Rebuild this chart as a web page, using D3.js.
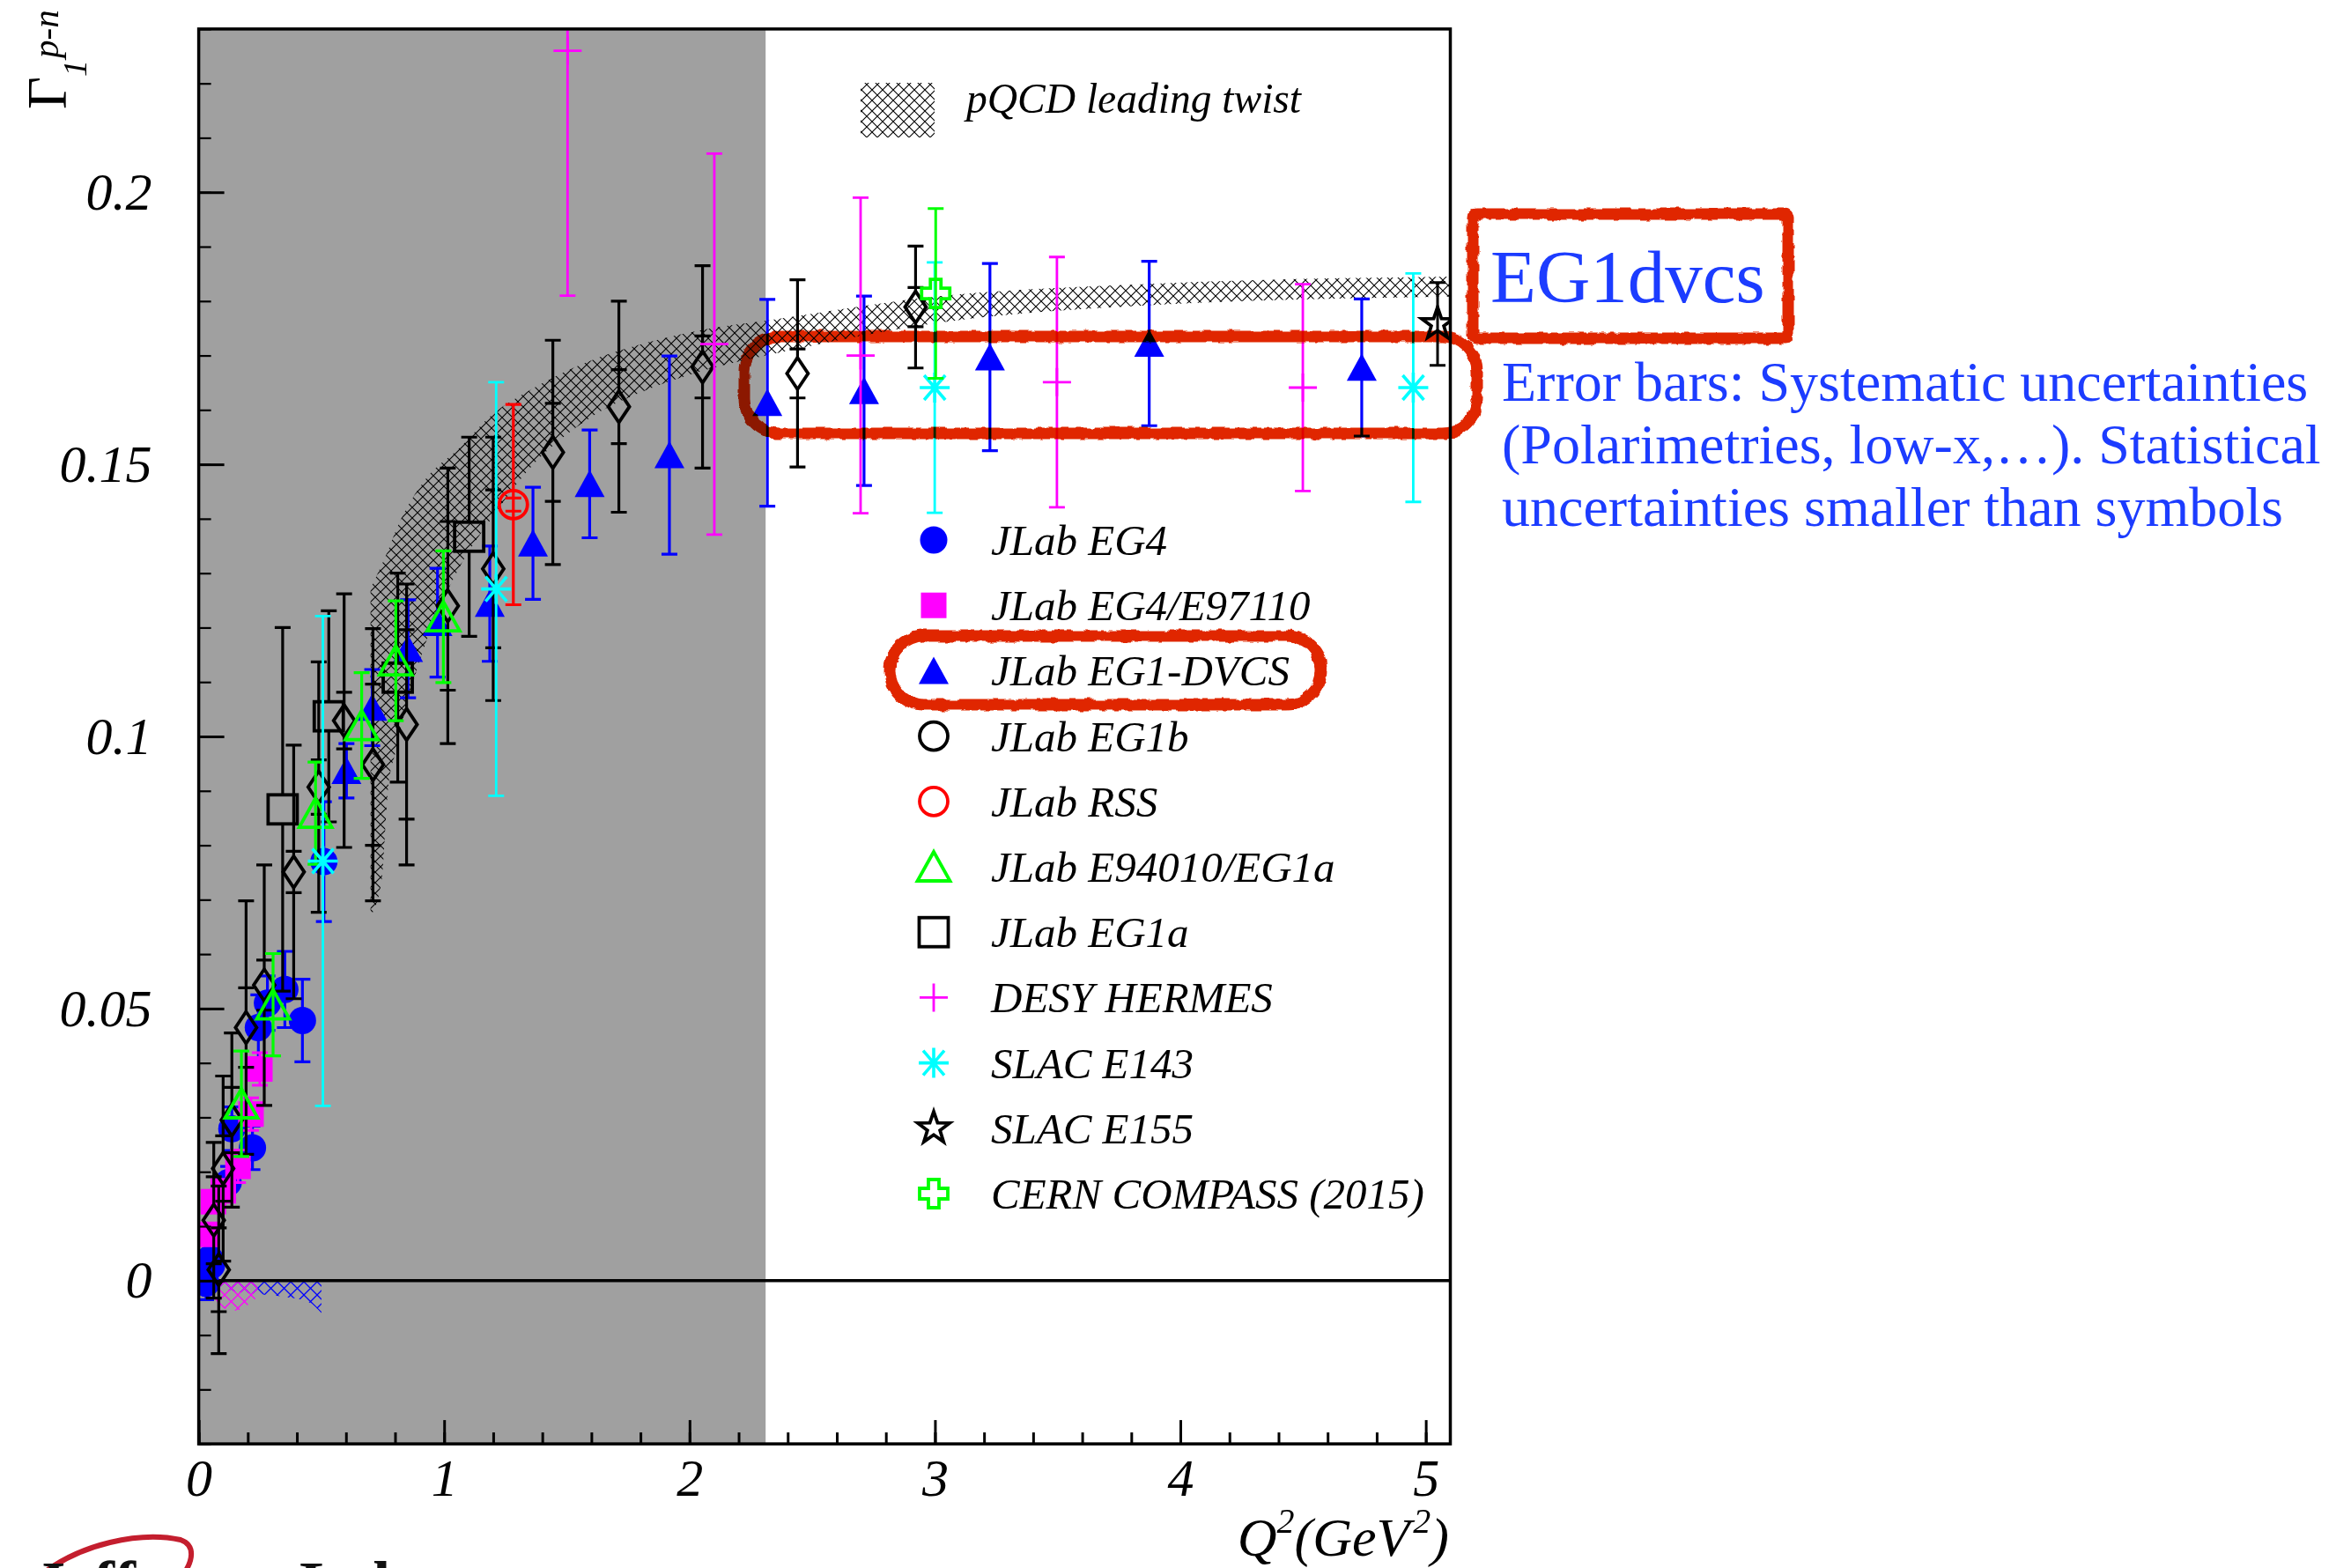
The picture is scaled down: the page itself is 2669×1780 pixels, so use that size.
<!DOCTYPE html>
<html>
<head>
<meta charset="utf-8">
<script src="https://cdn.jsdelivr.net/npm/d3@7"></script>
<style>
body { margin: 0; background: #fff; overflow: hidden; }
svg { display: block; }
text { font-family: "Liberation Serif", "Times New Roman", serif; }
</style>
</head>
<body>
<script>
// ---- data: [Q2, Gamma1, err] (EG1b / RSS: [Q2, Gamma1, errTotal, errStat])
var eg4 = [
  [0.030, -0.0005, 0.003], [0.045, 0.0040, 0.003], [0.052, 0.0028, 0.003],
  [0.120, 0.0180, 0.003], [0.135, 0.0279, 0.004], [0.219, 0.0244, 0.004],
  [0.243, 0.0465, 0.006], [0.280, 0.0510, 0.005], [0.351, 0.0535, 0.007],
  [0.4226, 0.0478, 0.0076], [0.510, 0.0770, 0.011]
];
var eg4e97110 = [
  [0.035, 0.0085, 0.002], [0.060, 0.0145, 0.002], [0.100, 0.0165, 0.002],
  [0.160, 0.0210, 0.003], [0.213, 0.0306, 0.003], [0.249, 0.0389, 0.003]
];
var eg1dvcs = [
  [0.602, 0.0937, 0.0050], [0.707, 0.1053, 0.0070], [0.853, 0.1161, 0.0090],
  [0.973, 0.1209, 0.0100], [1.186, 0.1244, 0.0106], [1.362, 0.1355, 0.0103],
  [1.593, 0.1464, 0.0099], [1.918, 0.1517, 0.0182], [2.317, 0.1613, 0.0190],
  [2.711, 0.1635, 0.0174], [3.224, 0.1697, 0.0172], [3.873, 0.1722, 0.0151],
  [4.739, 0.1678, 0.0126]
];
var eg1b = [
  [0.0613, 0.0111, 0.0143, 0.0080], [0.0815, 0.0020, 0.0154, 0.0077],
  [0.0995, 0.0206, 0.0170, 0.0060], [0.135, 0.0295, 0.0160, 0.0060],
  [0.193, 0.0465, 0.0233, 0.0073], [0.267, 0.0543, 0.0221, 0.0046],
  [0.387, 0.0751, 0.0233, 0.0038], [0.489, 0.0907, 0.0230, 0.0050],
  [0.5925, 0.1029, 0.0233, 0.0052], [0.710, 0.0948, 0.0250, 0.0148],
  [0.847, 0.1022, 0.0258, 0.0174], [1.015, 0.1240, 0.0253, 0.0155],
  [1.200, 0.1308, 0.0242, 0.0145], [1.443, 0.1522, 0.0206, 0.0090],
  [1.712, 0.1606, 0.0194, 0.0068], [2.053, 0.1679, 0.0186, 0.0057],
  [2.440, 0.1667, 0.0172, 0.0045], [2.921, 0.1789, 0.0112, 0.0036]
];
var rss = [[1.282, 0.1426, 0.0184, 0.0012]];
var e94010 = [
  [0.174, 0.0325, 0.0097], [0.303, 0.0507, 0.0094], [0.476, 0.0859, 0.0094],
  [0.664, 0.1020, 0.0097], [0.803, 0.1139, 0.0110], [0.997, 0.1220, 0.0121]
];
var eg1a = [[0.342, 0.0866, 0.0334], [0.530, 0.1037, 0.0194], [0.811, 0.1108, 0.0192], [1.102, 0.1367, 0.0183]];
var hermes = [[1.503, 0.2260, 0.045], [2.101, 0.1721, 0.035], [2.697, 0.1700, 0.029], [3.497, 0.1651, 0.023], [4.499, 0.1641, 0.019]];
var e143 = [[0.506, 0.0771, 0.045], [1.212, 0.1271, 0.038], [2.999, 0.1641, 0.023], [4.949, 0.1641, 0.021]];
var e155 = [[5.048, 0.1758, 0.0076]];
var compass = [[3.003, 0.1814, 0.0156]];

// pQCD leading twist band
var pqcdQ    = [0.700, 0.745, 0.770, 0.805, 0.925, 1.057, 1.200, 1.344, 1.583, 1.822, 2.062, 2.313, 3.0, 3.9, 5.1];
var pqcdLow  = [0.0670, 0.0734, 0.0896, 0.0977, 0.1172, 0.1306, 0.1405, 0.1490, 0.1582, 0.1636, 0.1673, 0.1700, 0.1759, 0.1793, 0.1808];
var pqcdHigh = [0.1272, 0.1315, 0.1340, 0.1380, 0.1473, 0.1528, 0.1593, 0.1635, 0.1688, 0.1723, 0.1748, 0.1764, 0.1808, 0.1832, 0.1845];
// systematic bands at the bottom
var eg4BandQ   = [0.06, 0.15, 0.25, 0.35, 0.45, 0.50];
var eg4BandLow = [-0.001, -0.002, -0.0025, -0.003, -0.004, -0.006];
var e97BandQ   = [0.06, 0.10, 0.15, 0.20, 0.24];
var e97BandLow = [-0.003, -0.005, -0.0055, -0.0045, -0.003];

var resonanceEnd = 2.31;

var xTicks = [0, 1, 2, 3, 4, 5];
var xTickLabels = ["0", "1", "2", "3", "4", "5"];
var yTicks = [0, 0.05, 0.1, 0.15, 0.2];
var yTickLabels = ["0", "0.05", "0.1", "0.15", "0.2"];

var legendLabels = ["JLab EG4", "JLab EG4/E97110", "JLab EG1-DVCS", "JLab EG1b", "JLab RSS",
  "JLab E94010/EG1a", "JLab EG1a", "DESY HERMES", "SLAC E143", "SLAC E155", "CERN COMPASS (2015)"];
var noteLines = ["Error bars: Systematic uncertainties",
  "(Polarimetries, low-x,\u2026). Statistical",
  "uncertainties smaller than symbols"];

// ---- layout
var W = 2669, H = 1780;
var pl = 225.6, pr = 1646.5, pt = 32.9, pb = 1639.1;

var x = d3.scaleLinear().domain([0, 5.1]).range([pl, pr]);
var y = d3.scaleLinear().domain([-0.03, 0.23]).range([pb, pt]);

var svg = d3.select("body").append("svg").attr("width", W).attr("height", H);
var defs = svg.append("defs");

function hatch(id, color, size, sw) {
  var p = defs.append("pattern").attr("id", id).attr("patternUnits", "userSpaceOnUse")
    .attr("width", size).attr("height", size);
  p.append("path")
    .attr("d", "M-1,-1L" + (size + 1) + "," + (size + 1) + "M" + (size + 1) + ",-1L-1," + (size + 1))
    .attr("stroke", color).attr("stroke-width", sw).attr("fill", "none");
}
hatch("hBlack", "#000", 12, 1.1);
hatch("hBlue", "#0000ff", 15, 1.3);
hatch("hMag", "#ff00ff", 15, 1.3);

defs.append("clipPath").attr("id", "plotClip").append("rect")
  .attr("x", pl).attr("y", pt).attr("width", pr - pl).attr("height", pb - pt);

var rough = defs.append("filter").attr("id", "rough").attr("x", "-10%").attr("y", "-10%")
  .attr("width", "120%").attr("height", "120%");
rough.append("feTurbulence").attr("type", "fractalNoise").attr("baseFrequency", 0.09)
  .attr("numOctaves", 2).attr("seed", 3).attr("result", "noise");
rough.append("feDisplacementMap").attr("in", "SourceGraphic").attr("in2", "noise")
  .attr("scale", 6).attr("xChannelSelector", "R").attr("yChannelSelector", "G");

// ---- plot area
var plot = svg.append("g").attr("clip-path", "url(#plotClip)");

plot.append("rect")
  .attr("x", x(0)).attr("y", pt)
  .attr("width", x(resonanceEnd) - x(0)).attr("height", pb - pt)
  .attr("fill", "#a0a0a0");

function band(qs, lo, hi, fill) {
  var pts = qs.map(function (q, i) { return [q, lo[i], hi ? hi[i] : 0]; });
  plot.append("path").datum(pts)
    .attr("d", d3.area().curve(d3.curveMonotoneX)
      .x(function (d) { return x(d[0]); })
      .y0(function (d) { return y(d[1]); })
      .y1(function (d) { return y(d[2]); }))
    .attr("fill", fill);
}
band(pqcdQ, pqcdLow, pqcdHigh, "url(#hBlack)");
band(eg4BandQ, eg4BandLow, null, "url(#hBlue)");
band(e97BandQ, e97BandLow, null, "url(#hMag)");

plot.append("line")
  .attr("x1", x(0)).attr("x2", x(5.1)).attr("y1", y(0)).attr("y2", y(0))
  .attr("stroke", "#000").attr("stroke-width", 3.5);

function starPath(R, r) {
  var s = "";
  for (var i = 0; i < 10; i++) {
    var a = -Math.PI / 2 + i * Math.PI / 5, rr = i % 2 ? r : R;
    s += (i ? "L" : "M") + (rr * Math.cos(a)).toFixed(2) + "," + (rr * Math.sin(a)).toFixed(2);
  }
  return s + "Z";
}

function drawMarker(g, type, color, cx, cy) {
  var m = g.append("g").attr("transform", "translate(" + cx + "," + cy + ")");
  if (type === "circleF") m.append("circle").attr("r", 15.5).attr("fill", color);
  if (type === "squareF") m.append("rect").attr("x", -14.5).attr("y", -14.5).attr("width", 29).attr("height", 29).attr("fill", color);
  if (type === "triF") m.append("path").attr("d", "M0,-16L17,15L-17,15Z").attr("fill", color);
  var open = null;
  if (type === "circleO") open = m.append("circle").attr("r", 16);
  if (type === "triO") open = m.append("path").attr("d", "M0,-17L18.5,16L-18.5,16Z");
  if (type === "squareO") open = m.append("rect").attr("x", -16.5).attr("y", -16.5).attr("width", 33).attr("height", 33);
  if (type === "diamondO") open = m.append("path").attr("d", "M0,-18L12,0L0,18L-12,0Z");
  if (type === "starO") open = m.append("path").attr("d", starPath(19, 7.5));
  if (type === "crossO") open = m.append("path").attr("d", "M-6,-16H6V-6H16V6H6V16H-6V6H-16V-6H-6Z");
  if (open) open.attr("fill", "none").attr("stroke", color).attr("stroke-width", 3.8).attr("stroke-linejoin", "miter");
  if (type === "plus") m.append("path").attr("d", "M-16,0H16M0,-16V16").attr("stroke", color).attr("stroke-width", 2.8);
  if (type === "aster") m.append("path").attr("d", "M-17,0H17M0,-17V17M-12,-14L12,14M-12,14L12,-14")
    .attr("stroke", color).attr("stroke-width", 3.6);
}

function series(pts, type, color, sw, gap) {
  var g = plot.append("g");
  var cap = 9;
  pts.forEach(function (d) {
    var cx = x(d[0]), cy = y(d[1]);
    var yt = y(d[1] + d[2]), yb = y(d[1] - d[2]);
    var p = "";
    if (cy - gap > yt) p += "M" + cx + "," + (cy - gap) + "V" + yt;
    if (cy + gap < yb) p += "M" + cx + "," + (cy + gap) + "V" + yb;
    p += "M" + (cx - cap) + "," + yt + "H" + (cx + cap);
    p += "M" + (cx - cap) + "," + yb + "H" + (cx + cap);
    if (d.length > 3) {
      p += "M" + (cx - cap) + "," + y(d[1] + d[3]) + "H" + (cx + cap);
      p += "M" + (cx - cap) + "," + y(d[1] - d[3]) + "H" + (cx + cap);
    }
    g.append("path").attr("d", p).attr("stroke", color).attr("stroke-width", sw).attr("fill", "none");
  });
  pts.forEach(function (d) { drawMarker(g, type, color, x(d[0]), y(d[1])); });
}

series(eg4, "circleF", "#0000ff", 3.2, 0);
series(eg4e97110, "squareF", "#ff00ff", 3, 0);
series(eg1dvcs, "triF", "#0000ff", 3.2, 0);
series(eg1a, "squareO", "#000", 3.2, 16);
series(eg1b, "diamondO", "#000", 3.2, 18);
series(e94010, "triO", "#00ff00", 3.2, 0);
series(rss, "circleO", "#ff0000", 3.2, 0);
series(hermes, "plus", "#ff00ff", 2.8, 0);
series(e143, "aster", "#00ffff", 2.8, 0);
series(e155, "starO", "#000", 3, 0);
series(compass, "crossO", "#00ff00", 3, 0);

// ---- frame and axes
svg.append("rect").attr("x", pl).attr("y", pt).attr("width", pr - pl).attr("height", pb - pt)
  .attr("fill", "none").attr("stroke", "#000").attr("stroke-width", 3.5);

function styleAxis(g) {
  g.select(".domain").remove();
  g.selectAll(".tick line").attr("stroke", "#000").attr("stroke-width", 3);
  g.selectAll(".tick text").attr("font-family", "Liberation Serif, serif")
    .attr("font-style", "italic").attr("font-size", 60).attr("fill", "#000");
}

svg.append("g").attr("transform", "translate(0," + pb + ")")
  .call(d3.axisBottom(x).tickValues(d3.range(0, 5.01, 0.2)).tickSize(-13).tickFormat(""))
  .call(styleAxis);
svg.append("g").attr("transform", "translate(0," + pb + ")")
  .call(d3.axisBottom(x).tickValues(xTicks).tickSize(-27).tickPadding(16)
    .tickFormat(function (d, i) { return xTickLabels[i]; }))
  .call(styleAxis);

svg.append("g").attr("transform", "translate(" + pl + ",0)")
  .call(d3.axisLeft(y).tickValues(d3.range(-0.03, 0.2301, 0.01)).tickSize(-14).tickFormat(""))
  .call(styleAxis)
  .selectAll(".tick line").attr("stroke-width", 2.2);
svg.append("g").attr("transform", "translate(" + pl + ",0)")
  .call(d3.axisLeft(y).tickValues(yTicks).tickSize(-29).tickPadding(53)
    .tickFormat(function (d, i) { return yTickLabels[i]; }))
  .call(styleAxis);

// axis titles
var yt = svg.append("text").attr("transform", "translate(75,124) rotate(-90)").attr("fill", "#000");
yt.append("tspan").attr("font-size", 64).text("\u0393");
yt.append("tspan").attr("font-size", 38).attr("font-style", "italic").attr("dy", 23).text("1");
yt.append("tspan").attr("font-size", 41).attr("font-style", "italic").attr("dy", -32).attr("dx", 2).text("p-n");

var xt = svg.append("text").attr("x", 1645).attr("y", 1766).attr("text-anchor", "end")
  .attr("font-style", "italic").attr("font-size", 62).attr("fill", "#000");
xt.append("tspan").text("Q");
xt.append("tspan").attr("font-size", 40).attr("dy", -26).text("2");
xt.append("tspan").attr("dy", 26).text("(GeV");
xt.append("tspan").attr("font-size", 40).attr("dy", -26).attr("dx", 4).text("2");
xt.append("tspan").attr("dy", 26).text(")");

// ---- legends
svg.append("rect").attr("x", 977).attr("y", 94).attr("width", 84).attr("height", 62).attr("fill", "url(#hBlack)");
svg.append("text").attr("x", 1097).attr("y", 128).attr("font-style", "italic").attr("font-size", 47.5)
  .attr("fill", "#000").text("pQCD leading twist");

var legendMarks = [["circleF", "#0000ff"], ["squareF", "#ff00ff"], ["triF", "#0000ff"], ["circleO", "#000"],
  ["circleO", "#ff0000"], ["triO", "#00ff00"], ["squareO", "#000"], ["plus", "#ff00ff"],
  ["aster", "#00ffff"], ["starO", "#000"], ["crossO", "#00ff00"]];
var leg = svg.append("g");
legendLabels.forEach(function (lab, i) {
  var ly = 613 + i * 74.2;
  drawMarker(leg, legendMarks[i][0], legendMarks[i][1], 1060, ly);
  leg.append("text").attr("x", 1125).attr("y", ly + 17).attr("font-style", "italic")
    .attr("font-size", 49).attr("fill", "#000").text(lab);
});

// ---- annotations
var blue = "#1c3cff";
svg.append("text").attr("x", 1692).attr("y", 343).attr("font-size", 85).attr("fill", blue).text("EG1dvcs");
noteLines.forEach(function (t, i) {
  svg.append("text").attr("x", 1705).attr("y", 455 + i * 71).attr("font-size", 64).attr("fill", blue).text(t);
});

var red = svg.append("g").attr("filter", "url(#rough)").style("mix-blend-mode", "multiply")
  .attr("fill", "none").attr("stroke", "#e02800").attr("stroke-width", 13);
red.append("rect").attr("x", 1672).attr("y", 243).attr("width", 358).attr("height", 141).attr("rx", 4);
red.append("rect").attr("x", 845).attr("y", 382).attr("width", 832).attr("height", 110).attr("rx", 40);
red.append("rect").attr("x", 1010).attr("y", 722).attr("width", 490).attr("height", 78).attr("rx", 39);

// Jefferson Lab logo, cut by the page edge
svg.append("path").attr("d", "M44,1790 C90,1752 160,1738 205,1748 C222,1754 220,1772 206,1790")
  .attr("fill", "none").attr("stroke", "#c41e2e").attr("stroke-width", 6);
svg.append("text").attr("x", 38).attr("y", 1822).attr("font-family", "Liberation Sans, Arial, sans-serif")
  .attr("font-weight", "bold").attr("font-size", 72).attr("fill", "#111").text("Jefferson Lab");
</script>
</body>
</html>
